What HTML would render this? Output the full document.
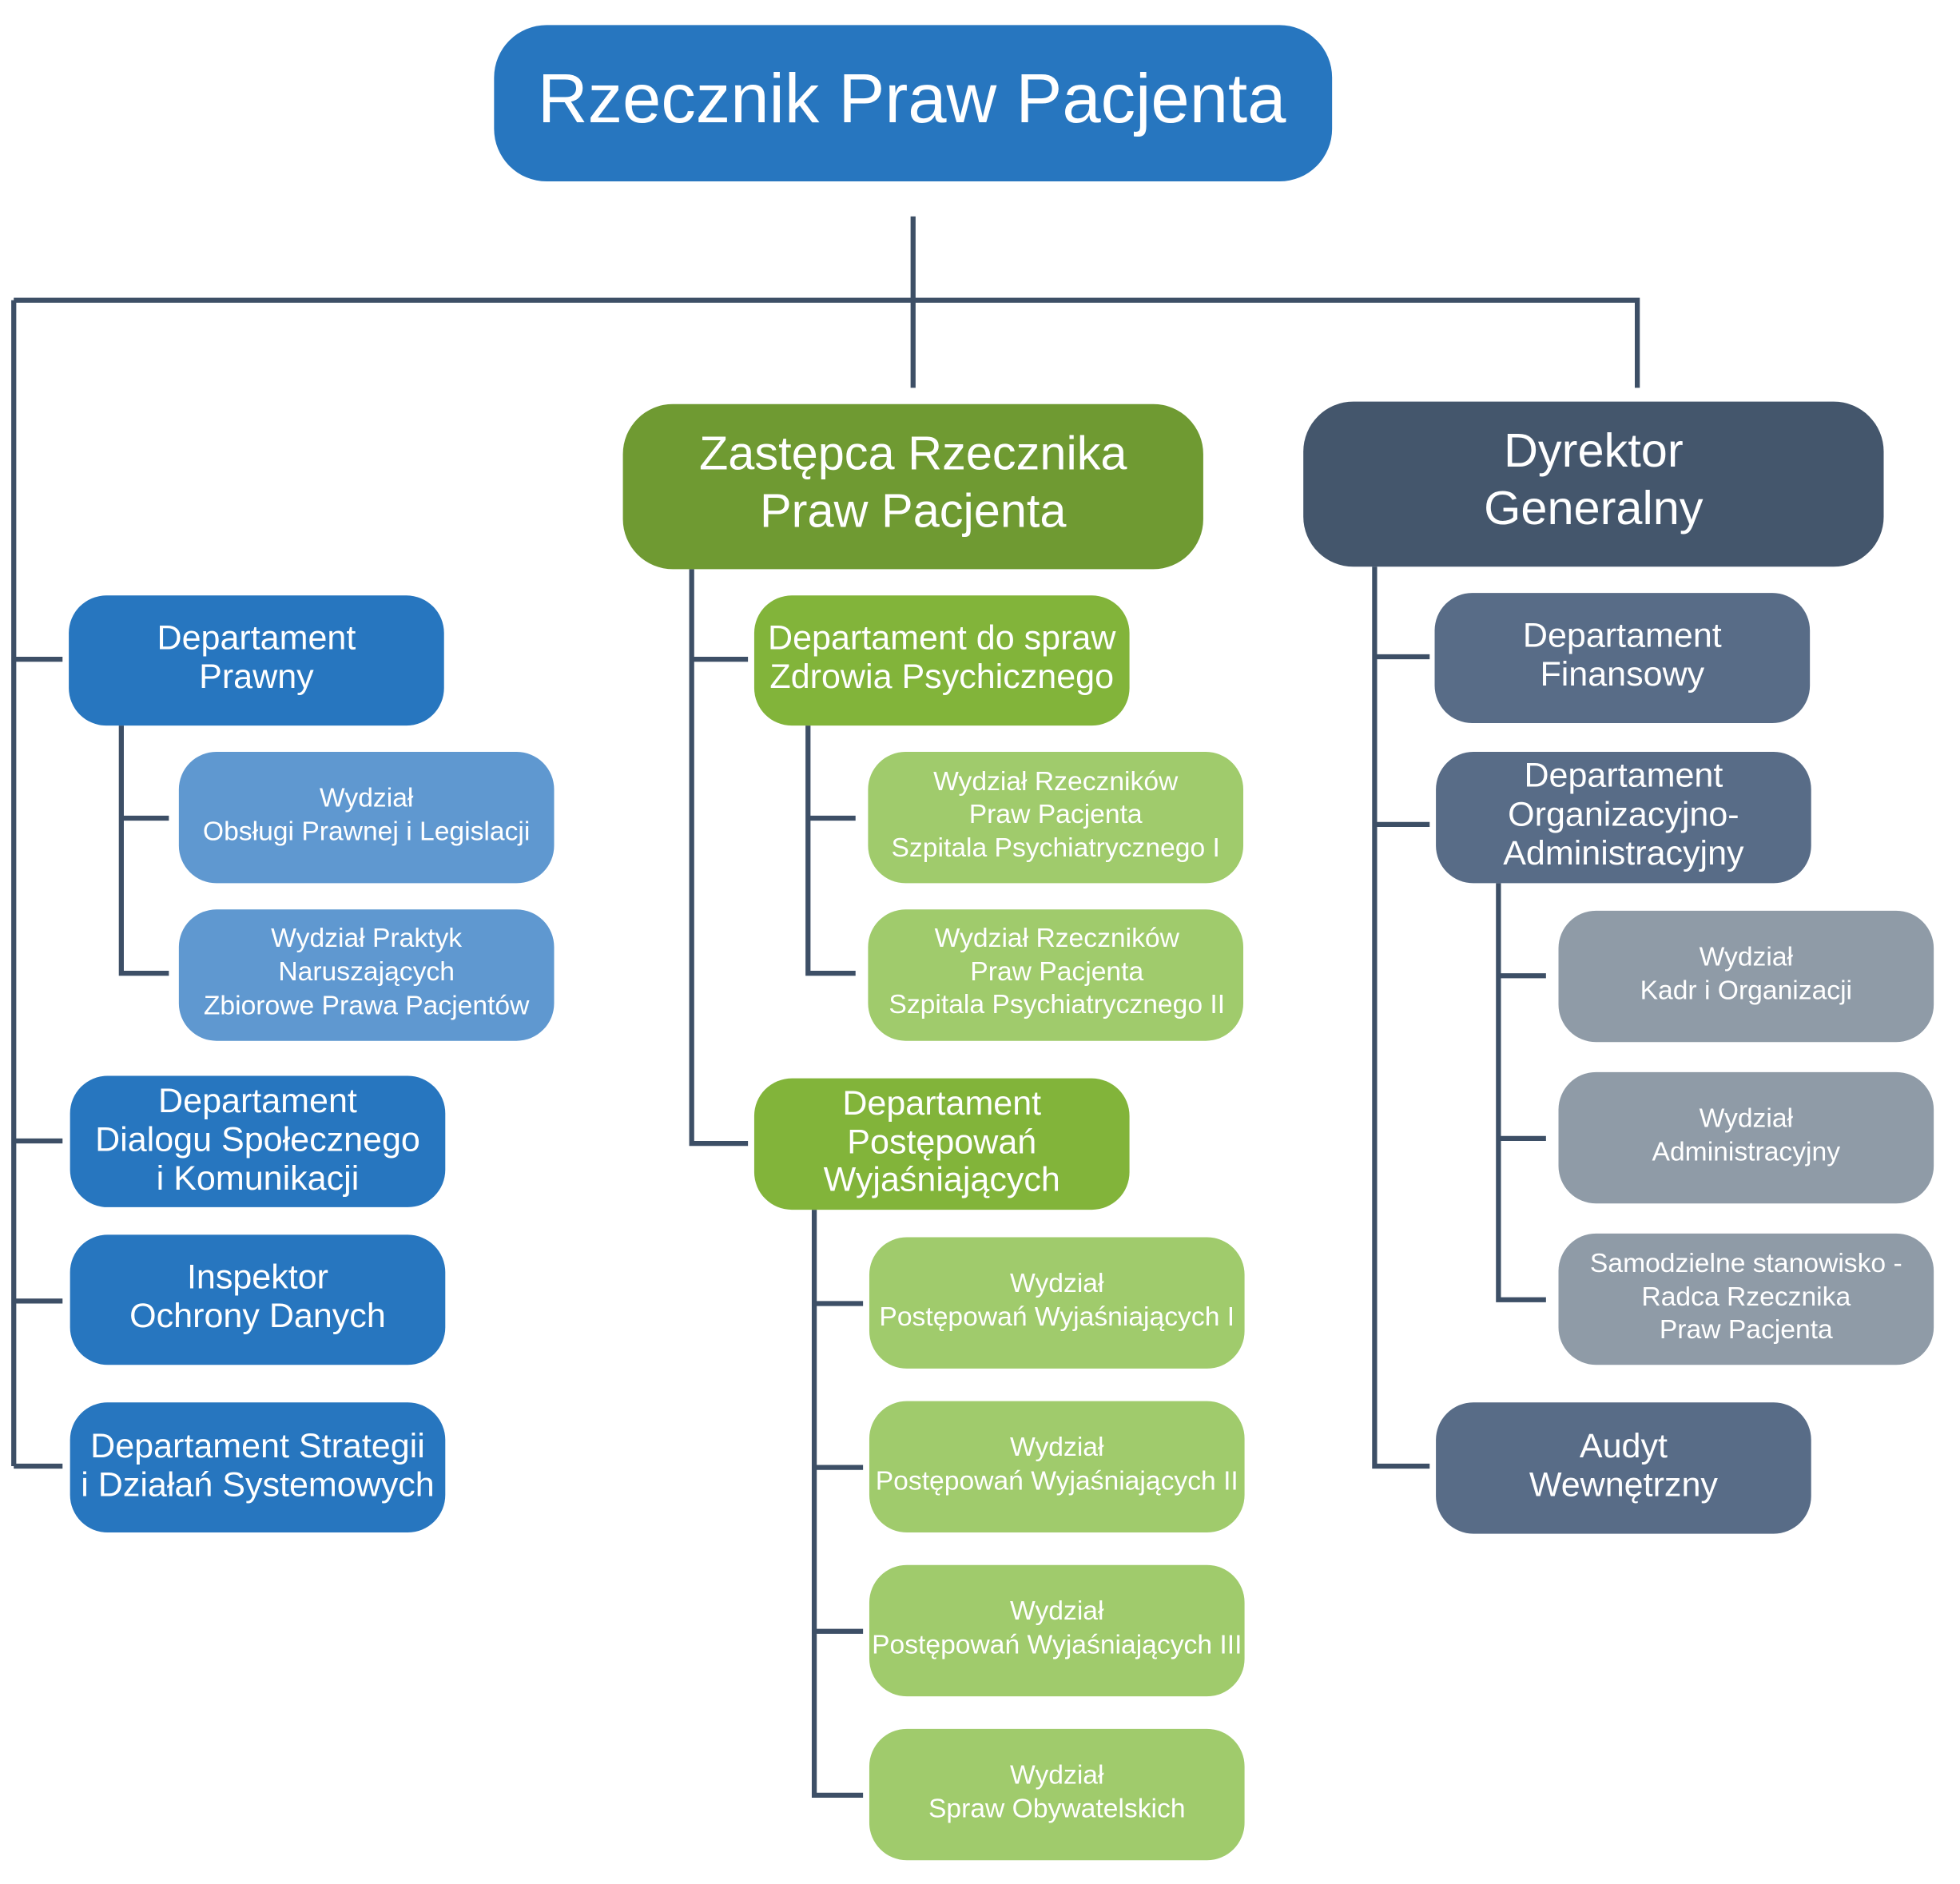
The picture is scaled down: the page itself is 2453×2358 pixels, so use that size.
<!DOCTYPE html>
<html><head><meta charset="utf-8"><style>
html,body{margin:0;padding:0;background:#fff}
svg{display:block}
text{font-family:"Liberation Sans",Arial,sans-serif;fill:#fff;text-anchor:middle;dominant-baseline:central}
</style></head><body>
<svg width="2453" height="2358" viewBox="0 0 1567 1506" preserveAspectRatio="none" xmlns="http://www.w3.org/2000/svg">
<g stroke="#3d4f66" stroke-width="4" fill="none">
<path d="M730 173V310M11 240H1309V310M11 240V1172"/>
<path d="M11 527H50M11 912H50M11 1040H50M11 1172H50"/>
<path d="M97 580V778H135M97 654H135"/>
<path d="M553 455V914H598M553 527H598"/>
<path d="M646 580V778H684M646 654H684"/>
<path d="M651 967V1435H690M651 1042H690M651 1173H690M651 1304H690"/>
<path d="M1099 453V1172H1143M1099 525H1143M1099 659H1143"/>
<path d="M1198 706V1039H1236M1198 780H1236M1198 910H1236"/>
</g>
<rect x="395" y="20" width="670" height="125" rx="42" fill="#2776bf"/>
<text x="729" y="79" font-size="55.5">Rzecznik Praw Pacjenta</text>
<rect x="498" y="323" width="464" height="132" rx="40" fill="#6f9a32"/>
<text x="730" y="362" font-size="38">Zastępca Rzecznika</text>
<text x="730" y="408" font-size="38">Praw Pacjenta</text>
<rect x="1042" y="321" width="464" height="132" rx="40" fill="#44566c"/>
<text x="1274" y="360" font-size="38">Dyrektor</text>
<text x="1274" y="406" font-size="38">Generalny</text>

<g font-size="27.5">
<rect x="55" y="476" width="300" height="104" rx="30" fill="#2776bf"/>
<text x="205" y="510">Departament</text><text x="205" y="541">Prawny</text>
<rect x="56" y="860" width="300" height="105" rx="30" fill="#2776bf"/>
<text x="206" y="880">Departament</text><text x="206" y="911">Dialogu Społecznego</text><text x="206" y="942">i Komunikacji</text>
<rect x="56" y="987" width="300" height="104" rx="30" fill="#2776bf"/>
<text x="206" y="1021">Inspektor</text><text x="206" y="1052">Ochrony Danych</text>
<rect x="56" y="1121" width="300" height="104" rx="30" fill="#2776bf"/>
<text x="206" y="1156">Departament Strategii</text><text x="206" y="1187">i Działań Systemowych</text>

<rect x="603" y="476" width="300" height="104" rx="30" fill="#82b43a"/>
<text x="753" y="510">Departament do spraw</text><text x="753" y="541">Zdrowia Psychicznego</text>
<rect x="603" y="862" width="300" height="105" rx="30" fill="#82b43a"/>
<text x="753" y="882">Departament</text><text x="753" y="913">Postępowań</text><text x="753" y="943">Wyjaśniających</text>

<rect x="1147" y="474" width="300" height="104" rx="30" fill="#586c87"/>
<text x="1297" y="508">Departament</text><text x="1297" y="539">Finansowy</text>
<rect x="1148" y="601" width="300" height="105" rx="30" fill="#586c87"/>
<text x="1298" y="620">Departament</text><text x="1298" y="651">Organizacyjno-</text><text x="1298" y="682">Administracyjny</text>
<rect x="1148" y="1121" width="300" height="105" rx="30" fill="#586c87"/>
<text x="1298" y="1156">Audyt</text><text x="1298" y="1187">Wewnętrzny</text>
</g>

<g font-size="21.5">
<rect x="143" y="601" width="300" height="105" rx="30" fill="#5f98d0"/>
<text x="293" y="638">Wydział</text><text x="293" y="665">Obsługi Prawnej i Legislacji</text>
<rect x="143" y="727" width="300" height="105" rx="30" fill="#5f98d0"/>
<text x="293" y="750">Wydział Praktyk</text><text x="293" y="777">Naruszających</text><text x="293" y="804">Zbiorowe Prawa Pacjentów</text>

<rect x="694" y="601" width="300" height="105" rx="30" fill="#a0cb6c"/>
<text x="844" y="625">Wydział Rzeczników</text><text x="844" y="651">Praw Pacjenta</text><text x="844" y="678">Szpitala Psychiatrycznego I</text>
<rect x="694" y="727" width="300" height="105" rx="30" fill="#a0cb6c"/>
<text x="845" y="750">Wydział Rzeczników</text><text x="845" y="777">Praw Pacjenta</text><text x="845" y="803">Szpitala Psychiatrycznego II</text>
<rect x="695" y="989" width="300" height="105" rx="30" fill="#a0cb6c"/>
<text x="845" y="1026">Wydział</text><text x="845" y="1053">Postępowań Wyjaśniających I</text>
<rect x="695" y="1120" width="300" height="105" rx="30" fill="#a0cb6c"/>
<text x="845" y="1157">Wydział</text><text x="845" y="1184">Postępowań Wyjaśniających II</text>
<rect x="695" y="1251" width="300" height="105" rx="30" fill="#a0cb6c"/>
<text x="845" y="1288">Wydział</text><text x="845" y="1315">Postępowań Wyjaśniających III</text>
<rect x="695" y="1382" width="300" height="105" rx="30" fill="#a0cb6c"/>
<text x="845" y="1419">Wydział</text><text x="845" y="1446">Spraw Obywatelskich</text>

<rect x="1246" y="728" width="300" height="105" rx="30" fill="#8f9ba7"/>
<text x="1396" y="765">Wydział</text><text x="1396" y="792">Kadr i Organizacji</text>
<rect x="1246" y="857" width="300" height="105" rx="30" fill="#8f9ba7"/>
<text x="1396" y="894">Wydział</text><text x="1396" y="921">Administracyjny</text>
<rect x="1246" y="986" width="300" height="105" rx="30" fill="#8f9ba7"/>
<text x="1396" y="1010">Samodzielne stanowisko -</text><text x="1396" y="1037">Radca Rzecznika</text><text x="1396" y="1063">Praw Pacjenta</text>
</g>
</svg>
</body></html>
